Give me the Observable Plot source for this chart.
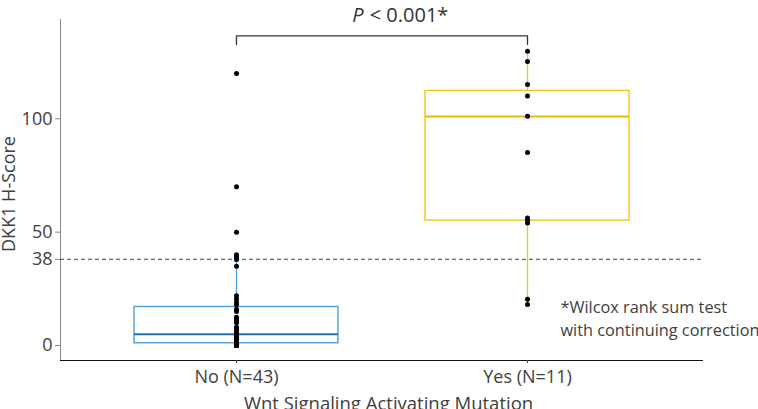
<!DOCTYPE html>
<html>
<head>
<meta charset="utf-8">
<script src="https://cdn.jsdelivr.net/npm/d3@7"></script>
<script src="https://cdn.jsdelivr.net/npm/@observablehq/plot@0.6"></script>
<style>
  html, body { margin: 0; padding: 0; background: white; }
</style>
</head>
<body>
<div id="chart"></div>
<script>
// ---- data ----
const groups = ["No (N=43)", "Yes (N=11)"];
const noScores = [0, 0, 0, 0, 0, 0, 0, 0.5, 1, 1, 1, 1,
  2, 2, 3, 3, 4, 4, 4, 5, 5, 5,
  6, 7, 8, 8, 10, 11, 12, 12.5, 15, 16,
  18, 19, 20.5, 22, 35, 38, 39, 40, 50, 70, 120];
const yesScores = [129.8, 125.3, 115.1, 110.1, 101.1, 85.1, 56.2, 55.1, 54.1, 20.4, 18.1];
const boxQ1 = [1, 55.1];
const boxMedian = [5, 101];
const boxQ3 = [17, 112.3];
const whiskerLow = [0, 18.1];
const whiskerHigh = [40, 129.8];
const boxColors = ["#4A9EDC", "#F4C61A"];
const medianColors = ["#1F6EB8", "#EDBA00"];
const yTicks = [0, 38, 50, 100];
const threshold = [38];
const pLabel = ["P", "\u00a0< 0.001*"];
const noteLines = ["*Wilcox rank sum test", "with continuing correction"];
const bracketTop = 136.6;
const bracketEnd = 132.8;
const noteY = 12.4;

const points = [
  ...noScores.map(v => ({g: groups[0], v})),
  ...yesScores.map(v => ({g: groups[1], v}))
];
const boxes = groups.map((g, i) => ({
  g, q1: boxQ1[i], med: boxMedian[i], q3: boxQ3[i],
  lo: whiskerLow[i], hi: whiskerHigh[i], c: boxColors[i], mc: medianColors[i]
}));
const bracket = [
  {g: groups[0], v: bracketEnd}, {g: groups[0], v: bracketTop},
  {g: groups[1], v: bracketTop}, {g: groups[1], v: bracketEnd}
];

const chart = Plot.plot({
  width: 758, height: 409,
  marginLeft: 60, marginRight: 56, marginTop: 19, marginBottom: 49,
  style: {fontFamily: "'Open Sans', sans-serif", fontSize: "18px", color: "#404040", background: "white", overflow: "visible"},
  x: {type: "band", domain: groups, paddingInner: 0.3, paddingOuter: 0.25, label: null},
  y: {domain: [-6.6, 143.8], label: null},
  color: {type: "identity"},
  marks: [
    Plot.frame({anchor: "left", stroke: "#888"}),
    Plot.frame({anchor: "bottom", stroke: "#111"}),
    Plot.axisY({ticks: yTicks, tickSize: 5, tickPadding: 3, stroke: "#888", fill: "#404040", fontSize: 18, label: null}),
    Plot.axisX({tickSize: 3, tickPadding: 7, stroke: "#444", fill: "#404040", fontSize: 18, label: null}),
    Plot.ruleY(threshold, {stroke: "#666", strokeDasharray: "4,3", strokeWidth: 1.2}),
    Plot.ruleX(boxes, {x: "g", y1: "q3", y2: "hi", stroke: "c", strokeWidth: 1.3}),
    Plot.ruleX(boxes, {x: "g", y1: "lo", y2: "q1", stroke: "c", strokeWidth: 1.3}),
    Plot.barY(boxes, {x: "g", y1: "q1", y2: "q3", fill: "none", stroke: "c", strokeWidth: 1.4}),
    Plot.tickY(boxes, {x: "g", y: "med", stroke: "mc", strokeWidth: 2}),
    Plot.dot(points, {x: "g", y: "v", r: 2.5, fill: "black", stroke: "none"}),
    Plot.line(bracket, {x: "g", y: "v", stroke: "#333", strokeWidth: 1.3}),
    Plot.text([pLabel[0]], {frameAnchor: "top", dx: -18, dy: -4, lineAnchor: "middle", textAnchor: "end", fontStyle: "italic", fontSize: 20, fill: "#333"}),
    Plot.text([pLabel[1]], {frameAnchor: "top", dx: -17, dy: -4, lineAnchor: "middle", textAnchor: "start", fontSize: 20, fill: "#333"}),
    Plot.text([noteLines.join("\n")], {x: () => groups[1], y: () => noteY, dx: 33, textAnchor: "start", lineAnchor: "middle", lineHeight: 1.4, fontSize: 16.3, fill: "#404040"}),
    Plot.text(["DKK1 H-Score"], {frameAnchor: "left", dx: -51, dy: 4, rotate: -90, textAnchor: "middle", lineAnchor: "middle", fontSize: 18, fill: "#404040"}),
    Plot.text(["Wnt Signaling Activating Mutation"], {frameAnchor: "bottom", dx: 7, dy: 44, textAnchor: "middle", lineAnchor: "middle", fontSize: 18.5, fill: "#404040"})
  ]
});
document.getElementById("chart").appendChild(chart);
</script>
</body>
</html>
